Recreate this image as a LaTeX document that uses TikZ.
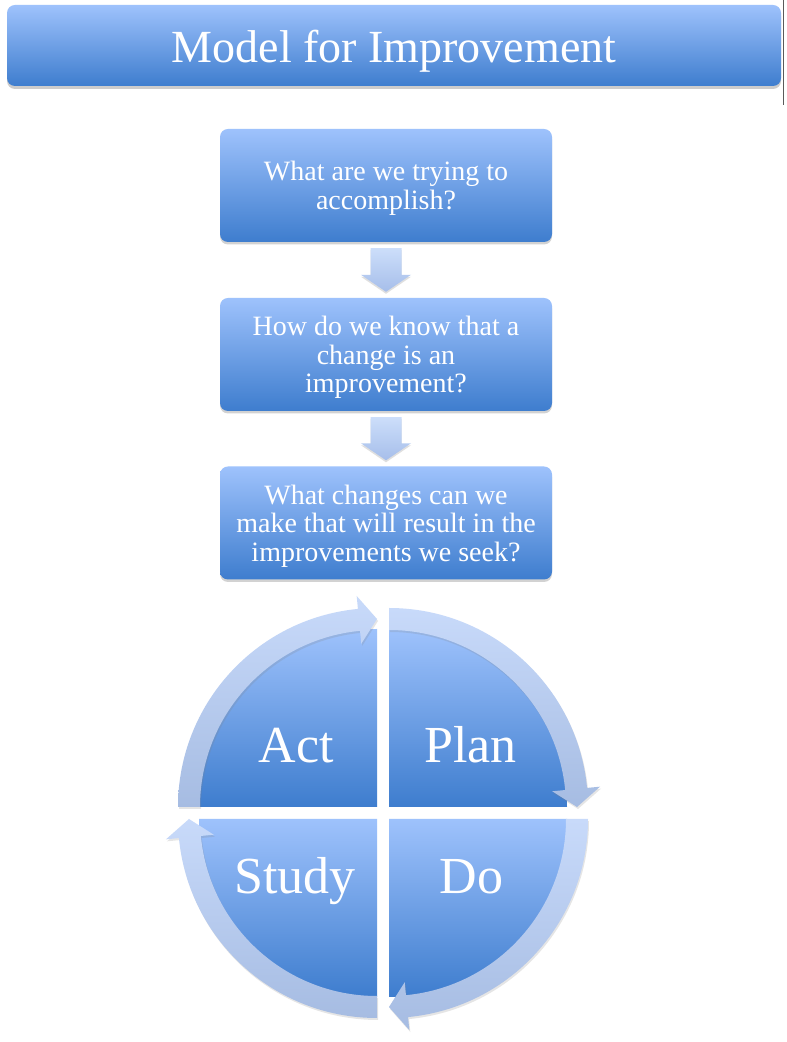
\documentclass[tikz,border=0pt]{standalone}
\usepackage{fontspec}
\setmainfont{Liberation Serif}
\usetikzlibrary{calc,shadows}
\definecolor{boxtop}{RGB}{158,194,252}
\definecolor{boxbot}{RGB}{62,125,206}
\definecolor{arrtop}{RGB}{204,222,250}
\definecolor{arrbot}{RGB}{166,190,234}
\definecolor{bandtop}{RGB}{200,218,250}
\definecolor{bandbot}{RGB}{166,188,226}
\definecolor{edgeline}{RGB}{90,90,90}
\newcommand\qtopstrut{\rule{0pt}{25pt}}
\newcommand\ttopstrut{\rule{0pt}{44pt}}
\newcommand\cyclearrow[5]{%
  \path[#5] ($(#1)+(#2:199)$) arc[start angle=#2, end angle=#4, radius=199]
    -- ($(#1)+(#4:212)$) -- ($(#1)+(#3:188)$) -- ($(#1)+(#4:164)$)
    -- ($(#1)+(#4:177)$) arc[start angle=#4, end angle=#2, radius=177] -- cycle;}
\newcommand\quadfill[3]{%
  \path[quadshade] (#1) -- ($(#1)+(#2:178)$) arc[start angle=#2, end angle=#3, radius=178] -- cycle;}
\newcommand\blockarrow[2]{%
  \path[downarrow] ($(#1.south)+(-15.5,-6)$) -- ($(#1.south)+(15.5,-6)$)
    -- ($(#2.north)+(15.5,23)$) -- ($(#2.north)+(25,23)$) -- ($(#2.north)+(0,6)$)
    -- ($(#2.north)+(-25,23)$) -- ($(#2.north)+(-15.5,23)$) -- cycle;}
\tikzset{
  boxshade/.style={top color=boxtop, bottom color=boxbot, draw=none},
  titlebox/.style={boxshade, rounded corners=8pt, minimum width=774pt, minimum height=81pt,
    text=white, font=\fontsize{46}{50}\selectfont,
    drop shadow={opacity=0.4, shadow xshift=0pt, shadow yshift=-3pt}},
  qbox/.style={boxshade, rounded corners=8pt, minimum width=332pt, minimum height=113pt,
    text=white, align=center, font=\fontsize{28}{28.5}\selectfont,
    drop shadow={opacity=0.35, shadow xshift=0pt, shadow yshift=-2.5pt}},
  downarrow/.style={top color=arrtop, bottom color=arrbot, draw=none,
    drop shadow={opacity=0.25, shadow xshift=0pt, shadow yshift=-2pt}},
  quadshade/.style={top color=boxtop, bottom color=boxbot, draw=none},
  bandshade/.style={top color=bandtop, bottom color=bandbot, draw=none,
    drop shadow={opacity=0.2, shadow xshift=1pt, shadow yshift=-2pt}},
  lbl/.style={text=white, anchor=base, inner sep=0pt, font=\fontsize{52}{56}\selectfont},
}
\begin{document}
\begin{tikzpicture}[x=1pt, y=1pt]
  \useasboundingbox (0,0) rectangle (787,1042);
  \fill[white] (0,0) rectangle (787,1042);
  % page edge line
  \draw[edgeline, line width=1pt] (783,937) -- (783,1042);
  % title
  \node[titlebox] (title) at (394,996.5) {\ttopstrut Model for Improvement};
  % question boxes
  \node[qbox] (q1) at (386,856.5) {\qtopstrut What are we trying to\\accomplish?};
  \node[qbox] (q2) at (386,687.5) {\qtopstrut How do we know that a\\change is an\\improvement?};
  \node[qbox] (q3) at (386,519) {\qtopstrut What changes can we\\make that will result in the\\improvements we seek?};
  \blockarrow{q1}{q2}
  \blockarrow{q2}{q3}
  % cycle centres
  \coordinate (cA) at (377,235);
  \coordinate (cP) at (389,235);
  \coordinate (cD) at (389,223);
  \coordinate (cS) at (377,223);
  % quadrant fills
  \quadfill{cA}{180}{90}
  \quadfill{cP}{90}{0}
  \quadfill{cD}{0}{-90}
  \quadfill{cS}{270}{180}
  % ring arrows
  \cyclearrow{cA}{180}{90}{95.5}{bandshade}
  \cyclearrow{cP}{90}{0}{5.5}{bandshade}
  \cyclearrow{cD}{0}{-90}{-84.5}{bandshade}
  \cyclearrow{cS}{270}{180}{185.5}{bandshade}
  % labels
  \node[lbl] (act) at (296,279) {Act};
  \node[lbl] (plan) at (470.5,279) {Plan};
  \node[lbl] (study) at (295,148) {Study};
  \node[lbl] (do) at (471.5,148) {Do};
\end{tikzpicture}
\end{document}
